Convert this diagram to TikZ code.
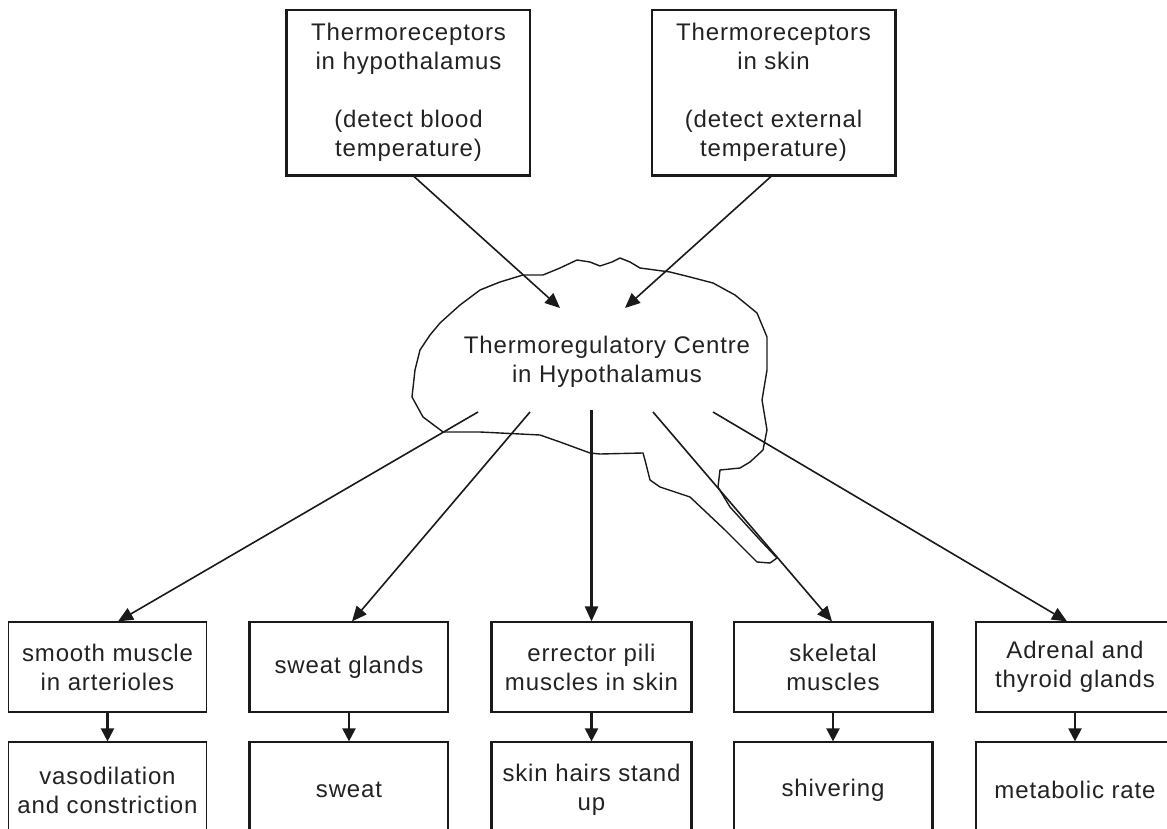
\documentclass[tikz,border=0pt]{standalone}
\usepackage{fontspec}
\setmainfont[LetterSpace=3.6]{Liberation Sans}
\usetikzlibrary{arrows.meta}
\definecolor{ink}{HTML}{1A1A1A}
\definecolor{txtc}{HTML}{222222}
\begin{document}
\begin{tikzpicture}[x=1pt,y=-1pt,
  txt/.style={text=txtc, align=center, font=\fontsize{24}{29}\selectfont},
  box/.style={txt, draw=ink, line width=1.2pt, inner sep=0pt, minimum width=198pt},
  toprow/.style={box, minimum width=243pt, minimum height=165pt},
  row1/.style={box, minimum height=90pt},
  row2/.style={box, minimum height=96pt},
  arr/.style={draw=ink, line width=1.6pt, -{Triangle[length=15pt,width=13pt]}},
  arrv/.style={draw=ink, line width=2.2pt, -{Triangle[length=13pt,width=13pt]}},
  thk/.style={draw=ink, line width=3pt},
  cloudline/.style={draw=ink, line width=1.4pt, line join=round}]
\clip (0,0) rectangle (1167,829);
% top boxes
\node[toprow] (t1) at (408.5,92.5) {Thermoreceptors\\in hypothalamus\\[29pt](detect blood\\temperature)};
\node[toprow] (t2) at (773.5,92.5) {Thermoreceptors\\in skin\\[29pt](detect external\\temperature)};
\draw[thk] (t1.north west) -- (t1.south west) -- (t1.south east);
\draw[thk] (t2.north east) -- (t2.south east) -- (t2.south west);
% cloud
\draw[cloudline] plot coordinates {(523,275) (543,275) (560,268) (577,260) (590,262) (600,266) (612,262) (620,258) (630,262) (640,268) (670,272) (690,277) (713,283) (735,295) (757,313) (767,337) (767,370) (762,400) (767,430) (763,450) (750,462) (740,468) (720,470) (718,487) (730,507) (760,540) (777,558) (770,563) (757,562) (725,530) (690,497) (660,487) (650,480) (645,460) (643,453) (600,454) (590,453) (560,442) (540,435) (480,432) (443,432) (423,417) (412,397) (415,370) (420,350) (430,335) (440,323) (460,305) (480,290) (500,282)} -- cycle;
\node[txt] (cl) at (607,362) {Thermoregulatory Centre\\in Hypothalamus};
\coordinate (ca) at (560,308);
\coordinate (cb) at (625,308);
\coordinate (o1) at (478,412);
\coordinate (o2) at (530,412);
\coordinate (o3) at (591.5,410);
\coordinate (o4) at (653,412);
\coordinate (o5) at (713,412);
\draw[arr] ([xshift=4.5pt]t1.south) -- (ca);
\draw[arr] ([xshift=-1.5pt]t2.south) -- (cb);
% first row
\node[row1] (b1) at (107.5,667) {smooth muscle\\in arterioles};
\node[row1] (b2) at (349,667) {sweat glands};
\node[row1] (b3) at (591.5,667) {errector pili\\muscles in skin};
\node[row1] (b4) at (833,667) {skeletal\\muscles};
\node[row1] (b5) at (1075,667) {Adrenal and\\thyroid glands};
\draw[thk] (b2.north west) -- (b2.south west);
\draw[thk] (b3.north west) -- (b3.south west);
\draw[thk] (b3.north east) -- (b3.south east);
\draw[thk] (b4.north east) -- (b4.south east);
% second row
\node[row2] (r1) at (107.5,790) {vasodilation\\and constriction};
\node[row2] (r2) at (349,790) {sweat};
\node[row2] (r3) at (591.5,790) {skin hairs stand\\up};
\node[row2] (r4) at (833,790) {shivering};
\node[row2] (r5) at (1075,790) {metabolic rate};
\draw[thk] (r2.north west) -- (r2.south west);
\draw[thk] (r3.north west) -- (r3.south west);
\draw[thk] (r3.north east) -- (r3.south east);
\draw[thk] (r4.north east) -- (r4.south east);
% arrows from centre
\draw[arr] (o1) -- ([xshift=10.5pt]b1.north);
\draw[arr] (o2) -- ([xshift=3pt]b2.north);
\draw[arr, line width=2.4pt] (o3) -- (b3.north);
\draw[arr] (o4) -- ([xshift=-1pt]b4.north);
\draw[arr] (o5) -- ([xshift=-8pt]b5.north);
% arrows between rows
\draw[arrv] (b1.south) -- (r1.north);
\draw[arrv] (b2.south) -- (r2.north);
\draw[arrv] (b3.south) -- (r3.north);
\draw[arrv] (b4.south) -- (r4.north);
\draw[arrv] (b5.south) -- (r5.north);
\end{tikzpicture}
\end{document}
